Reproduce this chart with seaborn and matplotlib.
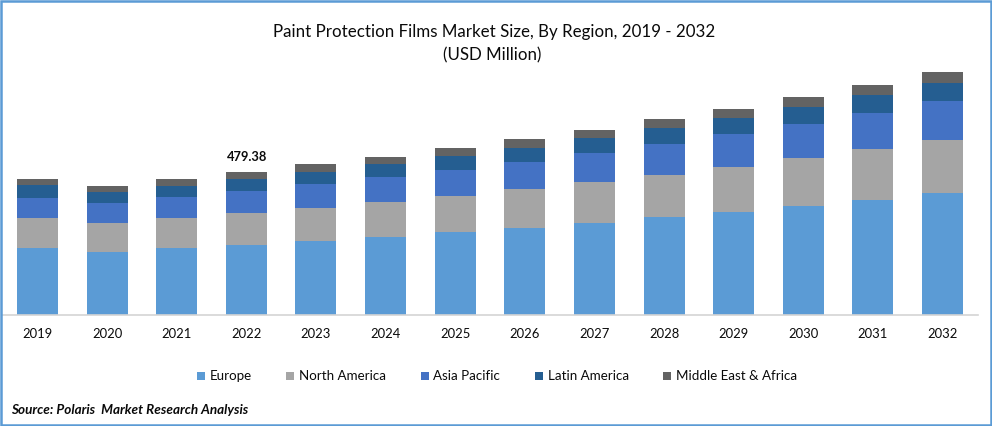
import matplotlib
matplotlib.use("Agg")
import matplotlib.pyplot as plt
import numpy as np
import pandas as pd
import seaborn as sns
from matplotlib.patches import Rectangle

years = [str(y) for y in range(2019, 2033)]
europe = [225, 211, 225, 235, 248, 261, 278, 292, 308, 328, 345, 365, 387, 409]
north_america = [101, 97, 101, 107, 111, 117, 121, 131, 137, 141, 151, 161, 170, 178]
asia_pacific = [67, 67, 70, 74, 80, 84, 87, 91, 97, 104, 111, 114, 121, 131]
latin_america = [44, 37, 37, 40, 40, 44, 47, 47, 50, 54, 54, 57, 60, 60]
middle_east = [20, 20, 23, 23.38, 27, 23, 27, 30, 27, 30, 30, 34, 34, 37]

series = {
    "Europe": (europe, "#5B9BD5"),
    "North America": (north_america, "#A5A5A5"),
    "Asia Pacific": (asia_pacific, "#4472C4"),
    "Latin America": (latin_america, "#255E91"),
    "Middle East & Africa": (middle_east, "#636363"),
}

W, H = 992, 426
BORDER = "#5B9BD5"
TEXT = "#0A0A0A"

sns.set_theme(style="white")
plt.rcParams["font.family"] = ["Lato", "DejaVu Sans"]

fig = plt.figure(figsize=(W / 100, H / 100), dpi=100)
# axes box in pixels: baseline at y=315, x from 2 to 978
ax = fig.add_axes([2 / W, 1 - 315 / H, 976 / W, 265 / H])

# stacked bars, one barplot call per region
bottom = np.zeros(len(years))
for name, (values, color) in series.items():
    df = pd.DataFrame({"year": years, "value": values})
    sns.barplot(data=df, x="year", y="value", color=color, width=0.59, linewidth=0,
                bottom=bottom, saturation=1, errorbar=None, label=name, ax=ax)
    bottom += np.array(values)

ax.set_xlim(-0.51, 13.51)
ax.set_ylim(0, 265 * 479.38 / 143)
ax.set_xlabel("")
ax.set_ylabel("")
ax.set_yticks([])
ax.tick_params(axis="x", length=0, pad=9.5, labelsize=9.4, labelcolor=TEXT)
sns.despine(ax=ax, left=True)
ax.spines["bottom"].set_color("#D4D4D4")
ax.spines["bottom"].set_linewidth(1.2)

ax.annotate("479.38", (3, bottom[3]), xytext=(0.5, 6.5), textcoords="offset points",
            ha="center", va="bottom", fontsize=9.3, fontweight="bold", color=TEXT)

fig.text(494 / W, 1 - 32 / H, "Paint Protection Films Market Size, By Region, 2019 - 2032",
         ha="center", va="center", fontsize=12.2, color=TEXT)
fig.text(492 / W, 1 - 55 / H, "(USD Million)", ha="center", va="center", fontsize=12.2, color=TEXT)

ax.legend(loc="center", bbox_to_anchor=(497 / W, 1 - 376.5 / H), bbox_transform=fig.transFigure,
          ncol=5, frameon=False, fontsize=9.6, handlelength=0.6, handleheight=0.6,
          columnspacing=2.6, handletextpad=0.35, labelcolor=TEXT)

fig.text(11 / W, 1 - 410.5 / H, "Source: Polaris  Market Research Analysis", ha="left", va="center",
         fontsize=9.7, fontweight="bold", fontstyle="italic", color=TEXT)

# blue frame around the picture
fig.patches.append(Rectangle((1.25 / W, 1.25 / H), 1 - 2.5 / W, 1 - 2.5 / H, transform=fig.transFigure,
                             fill=False, edgecolor=BORDER, linewidth=1.8))

fig.savefig("out.png", dpi=100)
